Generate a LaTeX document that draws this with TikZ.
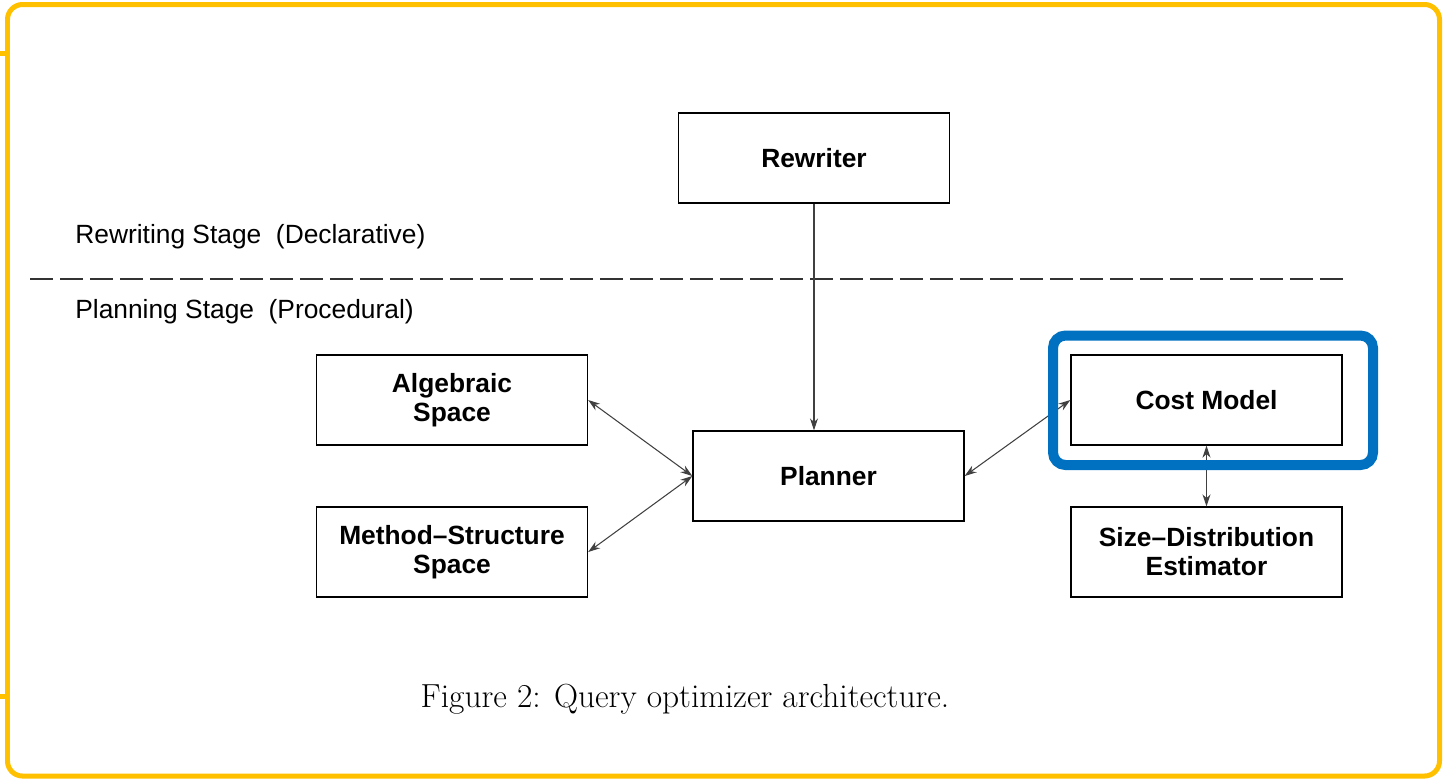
\documentclass[tikz,border=0pt]{standalone}
\usepackage{fontspec}
\setsansfont{Liberation Sans}
\usetikzlibrary{arrows.meta}
\definecolor{frameyellow}{HTML}{FFC000}
\definecolor{markblue}{HTML}{0070C0}
\begin{document}
\begin{tikzpicture}[x=0.02cm, y=-0.02cm, >={Stealth[length=2.4mm, width=1.6mm]},
    font=\sffamily\fontsize{15}{16.5}\selectfont,
    block/.style={draw, line width=0.8pt, minimum width=5.42cm, minimum height=1.8cm,
      align=center, inner sep=2pt, font=\sffamily\bfseries\fontsize{15}{16.5}\selectfont},
    link/.style={black!75, line width=0.6pt},
    stage/.style={anchor=west, inner sep=0pt}]
  \useasboundingbox (0,0) rectangle (1455,779);
  \draw[frameyellow, line width=0.1cm, rounded corners=0.3cm] (7.5,4.5) rectangle (1439.5,776);
  \foreach \y in {53,696} {
    \draw[frameyellow, line width=0.1cm] (0,\y) -- (7.5,\y);
  }
  % stage separator
  \draw[black!80, line width=0.8pt, dash pattern=on 0.46cm off 0.14cm] (30,279) -- (1345,279);
  \node[stage] (rewstage) at (75,237) {Rewriting Stage~~(Declarative)};
  \node[stage] (planstage) at (75,312) {Planning Stage~~(Procedural)};
  \node[block] (rewriter) at (814,158) {Rewriter};
  \node[block] (algebraic) at (452,400) {Algebraic\\Space};
  \node[block] (method) at (452,552) {Method--Structure\\Space};
  \node[block] (planner) at (828.5,476) {Planner};
  \node[block] (cost) at (1206.5,400) {Cost Model};
  \node[block] (size) at (1206.5,552) {Size--Distribution\\Estimator};
  \draw[link, ->] (rewriter) -- (rewriter |- planner.north);
  \draw[link, <->] (algebraic.east) -- (planner.west);
  \draw[link, <->] (method.east) -- (planner.west);
  \draw[link, <->] (planner.east) -- (cost.west);
  \draw[link, <->] (cost) -- (size);
  % highlight round the cost model
  \draw[markblue, line width=0.2cm, rounded corners=0.25cm] (1053,335.5) rectangle (1373,465);
  \node[font=\rmfamily\fontsize{19}{22}\selectfont] (caption) at (685,699) {Figure 2: Query optimizer architecture.};
\end{tikzpicture}
\end{document}
